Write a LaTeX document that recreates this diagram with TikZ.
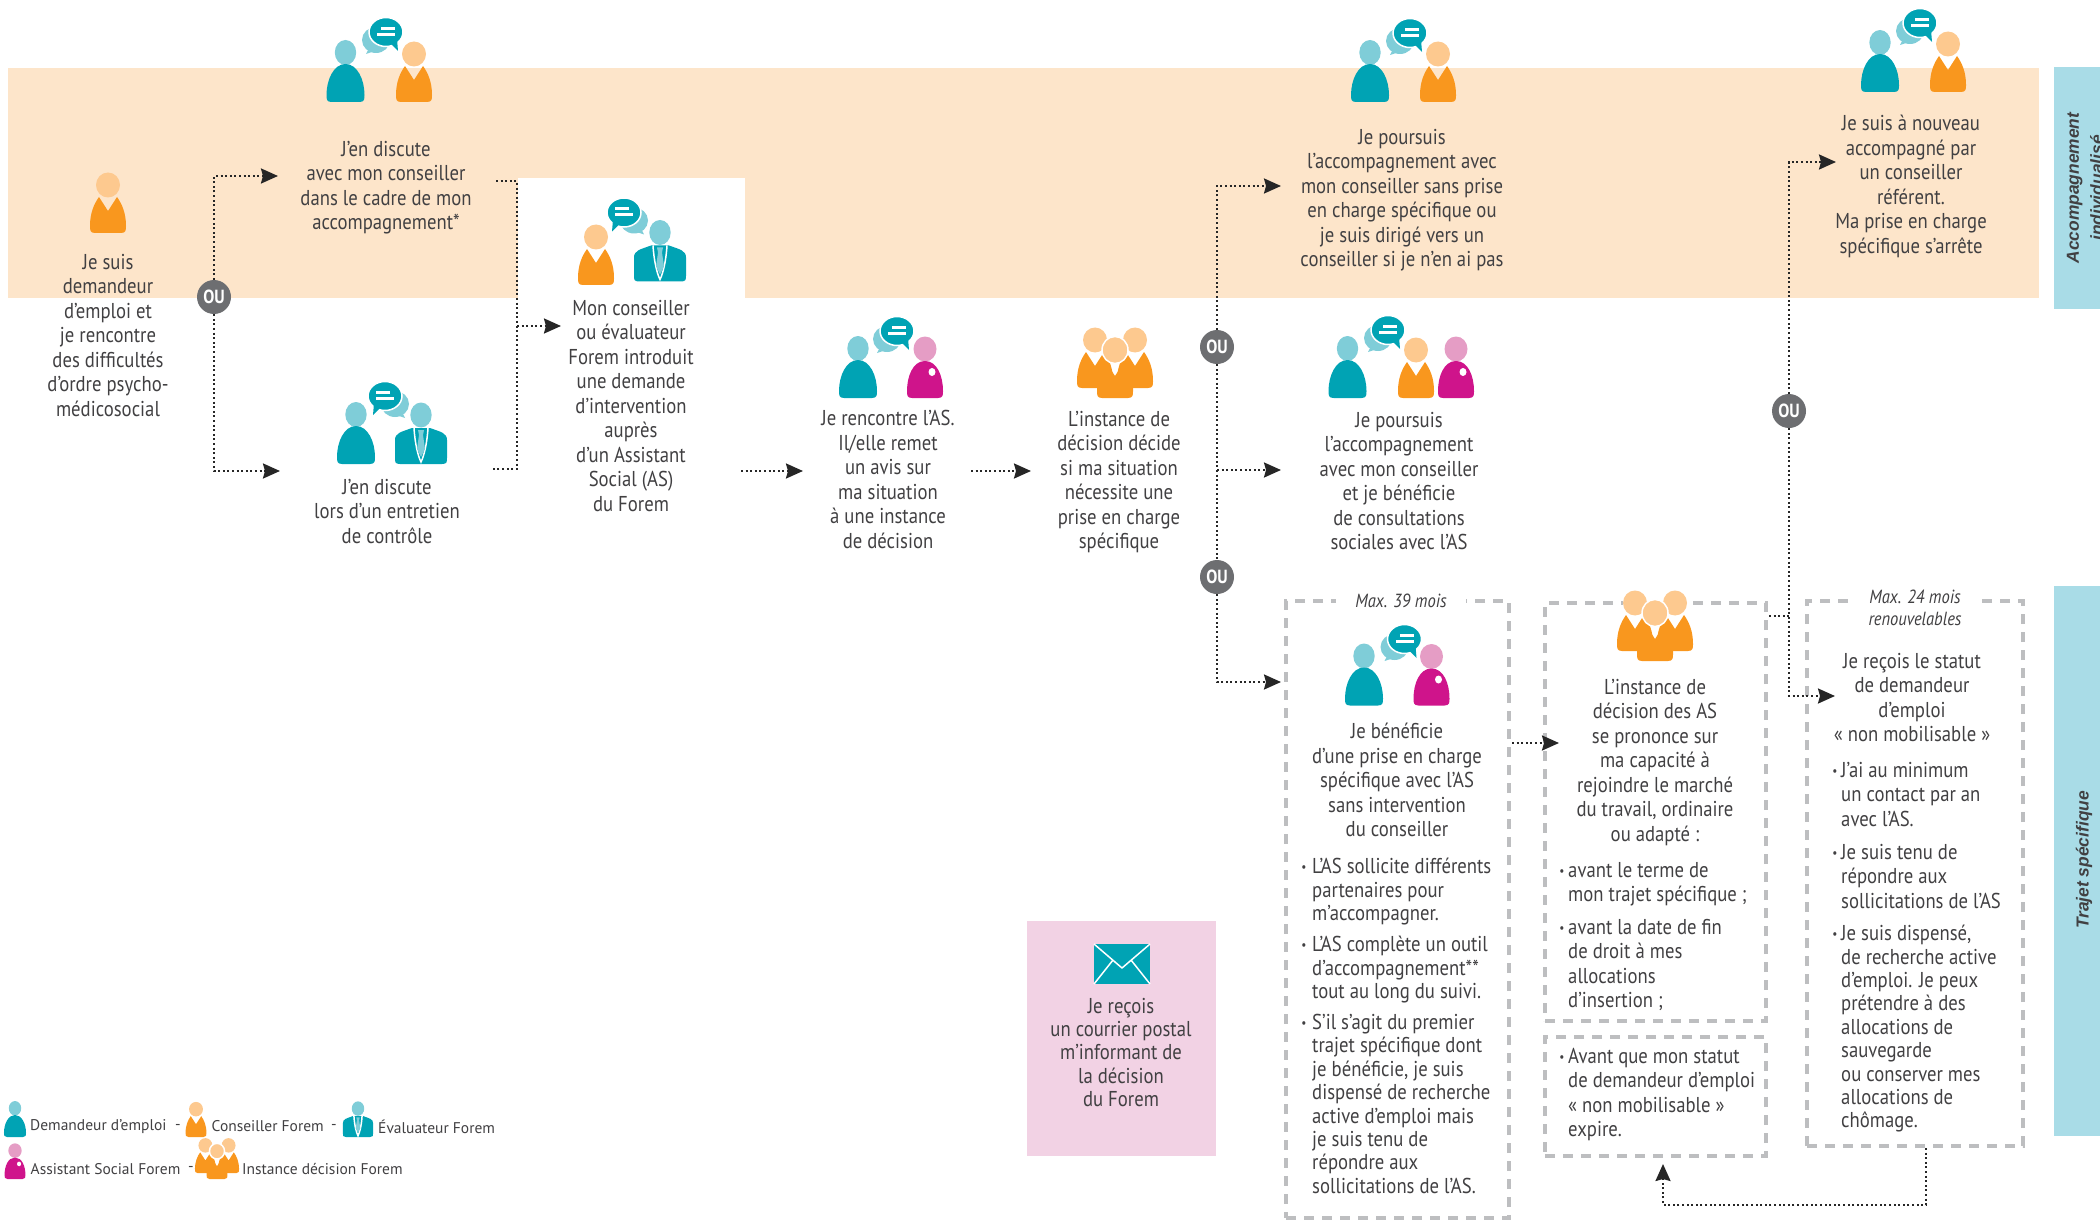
\documentclass[tikz,border=0pt]{standalone}
\usepackage{fontspec}
\setmainfont[FakeStretch=0.87]{PT Sans}
\newfontfamily\legfont[FakeStretch=1.0]{PT Sans}
\newfontfamily\sidefont{Liberation Sans}
\usetikzlibrary{arrows.meta,shapes.geometric}
\definecolor{lt}{HTML}{7FCDD8}
\definecolor{dk}{HTML}{00A3B4}
\definecolor{hd}{HTML}{FDC98F}
\definecolor{org}{HTML}{F9971E}
\definecolor{pk}{HTML}{E59DC5}
\definecolor{mg}{HTML}{CF148B}
\definecolor{band}{HTML}{FDE5CA}
\definecolor{side}{HTML}{A9DCE7}
\definecolor{pbox}{HTML}{F2D2E4}
\definecolor{dgray}{HTML}{BDBEC0}
\definecolor{ougray}{HTML}{6D6E71}
\definecolor{tcol}{HTML}{414042}
\newcommand{\conspaths}{%
  \fill[hd] (0,-48) ellipse [x radius=12,y radius=12.5];
  \fill[org] (-13,0) .. controls (-18,0) and (-18,-3) .. (-18,-7) .. controls (-18,-20) and (-14,-29) .. (-9,-36) -- (0,-22) -- (9,-36) .. controls (14,-29) and (18,-20) .. (18,-7) .. controls (18,-3) and (18,0) .. (13,0) -- cycle;
}
\tikzset{
 x=1pt,y=-1pt,
 clientp/.pic={
  \fill[lt] (0,-49.5) ellipse [x radius=10.7,y radius=12.5];
  \fill[dk] (-14,0) .. controls (-19,0) and (-19,-3) .. (-19,-7) .. controls (-19,-22) and (-12,-38) .. (0,-38) .. controls (12,-38) and (19,-22) .. (19,-7) .. controls (19,-3) and (19,0) .. (14,0) -- cycle;
 },
 consp/.pic={\conspaths},
 asp/.pic={
  \fill[pk] (0,-49) ellipse [x radius=11.5,y radius=12.5];
  \fill[mg] (-13,0) .. controls (-18,0) and (-18,-3) .. (-18,-7) .. controls (-18,-22) and (-12,-37) .. (0,-37) .. controls (12,-37) and (18,-22) .. (18,-7) .. controls (18,-3) and (18,0) .. (13,0) -- cycle;
  \fill[white] (7,-26) ellipse [x radius=3.5,y radius=4];
 },
 evalp/.pic={
  \fill[lt] (0,-49) ellipse [x radius=10.7,y radius=12.5];
  \fill[dk] (-21,0) .. controls (-26,0) and (-26,-2) .. (-26,-6) -- (-26,-24) .. controls (-26,-31) and (-20,-32) .. (-9,-36) -- (9,-36) .. controls (20,-32) and (26,-31) .. (26,-24) -- (26,-6) .. controls (26,-2) and (26,0) .. (21,0) -- cycle;
  \draw[white,line width=1.5pt] (-7,-36) .. controls (-6,-20) and (-3,-8) .. (0,-2) .. controls (3,-8) and (6,-20) .. (7,-36);
  \fill[lt] (-3,-34) -- (3,-34) -- (2,-29) -- (4,-15) -- (0,-7) -- (-4,-15) -- (-2,-29) -- cycle;
 },
 instp/.pic={
  \begin{scope}[shift={(-20,-10)}]\conspaths\end{scope}
  \begin{scope}[shift={(20,-10)}]\conspaths\end{scope}
  \fill[org] (-13,0) .. controls (-18,0) and (-18,-3) .. (-18,-7) -- (-18,-25) -- (-9,-36) -- (0,-22) -- (9,-36) -- (18,-25) -- (18,-7) .. controls (18,-3) and (18,0) .. (13,0) -- cycle;
  \path[fill=hd,draw=white,line width=1.5pt] (0,-48) ellipse [x radius=13,y radius=13.5];
 },
 bubp/.pic={
  \fill[lt] (-10,8) ellipse [x radius=14,y radius=13];
  \fill[lt] (-16,14) -- (-20,22) -- (-5,17) -- cycle;
  \path[fill=dk,draw=white,line width=1.5pt] (0,0) ellipse [x radius=17,y radius=14.5];
  \fill[dk] (3,10) -- (12,19) -- (11,7) -- cycle;
  \fill[white] (-5,-5) rectangle (9,-2);
  \fill[white] (-9,1) rectangle (9,4);
 },
 tx/.style={anchor=north,yshift=8pt,align=center,inner sep=0pt,text=tcol,
   font=\fontsize{21.5}{24.5}\selectfont,execute at begin node={\rule{0pt}{17pt}}},
 txl/.style={tx,anchor=north west,align=left},
 txlb/.style={txl,font=\fontsize{21.5}{23.4}\selectfont},
 txb/.style={tx,font=\fontsize{21.5}{23.2}\selectfont},
 bul/.style={inner sep=0pt,yshift=-3pt,text=tcol,font=\fontsize{13}{14}\selectfont},
 maxn/.style={anchor=center,align=center,inner ysep=2pt,fill=white,text=tcol,font=\fontsize{19}{22}\selectfont\itshape},
 leg/.style={anchor=west,inner sep=0pt,text=tcol,font=\fontsize{15.5}{18}\legfont},
 oun/.style={circle,fill=ougray,text=white,inner sep=0pt,minimum size=34pt,font=\fontsize{19}{20}\selectfont\bfseries},
 dbox/.style={rectangle,draw=dgray,line width=3.6pt,dash pattern=on 10pt off 8pt,anchor=north west,inner sep=0pt,outer sep=0pt},
 conn/.style={draw=black!85,line width=2.3pt,dash pattern=on 2pt off 2.6pt,-{Stealth[length=17pt,width=15pt,inset=2pt]}},
 connp/.style={draw=black!85,line width=2.3pt,dash pattern=on 2pt off 2.6pt},
 sidet/.style={rotate=90,align=center,inner sep=0pt,text=tcol,font=\fontsize{17.4}{24}\sidefont\bfseries\itshape},
}
\begin{document}
\begin{tikzpicture}
\useasboundingbox (0,0) rectangle (2100,1222);
% bands
\fill[band] (8,68) rectangle (2039,298);
\fill[white] (518,178) rectangle (745,298);
\fill[side] (2054,67) rectangle (2100,309);
\fill[side] (2054,586) rectangle (2100,1136);
\fill[pbox] (1027,921) rectangle (1216,1156);
\node[sidet] (s1) at (2085,188) {Accompagnement\\individualisé};
\node[sidet] (s2) at (2084,860) {Trajet spécifique};
% dashed boxes
\node[dbox,minimum width=223pt,minimum height=617pt] (boxA) at (1286,601) {};
\node[dbox,minimum width=221pt,minimum height=418pt] (boxB) at (1545,603) {};
\node[dbox,minimum width=221pt,minimum height=119pt] (boxC) at (1545,1037) {};
\node[dbox,minimum width=216pt,minimum height=545pt] (boxD) at (1807,601) {};
\fill[white] (1623,590) rectangle (1688,610);
\node[maxn,inner xsep=19pt] (m39) at (1401,601) {Max. 39 mois};
\node[maxn,inner xsep=20pt] (m24) at (1915,608) {Max. 24 mois\\renouvelables};
% icons
\pic at (108,233) {consp};
\pic at (345.5,102) {clientp}; \pic at (414,102) {consp}; \pic at (386,32) {bubp};
\pic at (596,285) {consp}; \pic at (660,281.5) {evalp}; \pic[xscale=-1] at (624,212.5) {bubp};
\pic at (356,464) {clientp}; \pic at (421,464) {evalp}; \pic[xscale=-1] at (385,396) {bubp};
\pic at (858,398) {clientp}; \pic at (925,398) {asp}; \pic at (897,331) {bubp};
\pic at (1115,398) {instp};
\pic at (1370,102) {clientp}; \pic at (1438,102) {consp}; \pic at (1410,33) {bubp};
\pic at (1880,92) {clientp}; \pic at (1948,92) {consp}; \pic at (1920,23) {bubp};
\pic at (1347.5,398) {clientp}; \pic at (1416,398) {consp}; \pic at (1456,398) {asp}; \pic at (1388,330) {bubp};
\pic at (1364,705.5) {clientp}; \pic at (1431.5,705.5) {asp}; \pic at (1404.5,639) {bubp};
\pic at (1655,661) {instp};
% envelope
\fill[dk] (1094,944) rectangle (1150,984);
\draw[white,line width=1.5pt,line join=round] (1094,944) -- (1122,968) -- (1150,944);
\draw[white,line width=1.5pt] (1094,984) -- (1113,960);
\draw[white,line width=1.5pt] (1150,984) -- (1131,960);
% texts
\node[tx] (t1) at (108,262) {Je suis\\demandeur\\d’emploi et\\je rencontre\\des difficultés\\d’ordre psycho-\\médicosocial};
\node[tx] (t2) at (386,149) {J’en discute\\avec mon conseiller\\dans le cadre de mon\\accompagnement*};
\node[tx] (t3) at (387,487) {J’en discute\\lors d’un entretien\\de contrôle};
\node[tx] (t4) at (631,308) {Mon conseiller\\ou évaluateur\\Forem introduit\\une demande\\d’intervention\\auprès\\d’un Assistant\\Social (AS)\\du Forem};
\node[tx] (t5) at (888,418) {Je rencontre l’AS.\\Il/elle remet\\un avis sur\\ma situation\\à une instance\\de décision};
\node[tx] (t6) at (1119,419) {L’instance de\\décision décide\\si ma situation\\nécessite une\\prise en charge\\spécifique};
\node[tx] (t7) at (1402,137) {Je poursuis\\l’accompagnement avec\\mon conseiller sans prise\\en charge spécifique ou\\je suis dirigé vers un\\conseiller si je n’en ai pas};
\node[tx] (t8) at (1399,420) {Je poursuis\\l’accompagnement\\avec mon conseiller\\et je bénéficie\\de consultations\\sociales avec l’AS};
\node[tx] (t9) at (1911,123) {Je suis à nouveau\\accompagné par\\un conseiller\\référent.\\Ma prise en charge\\spécifique s’arrête};
\node[tx] (t10) at (1397,731) {Je bénéficie\\d’une prise en charge\\spécifique avec l’AS\\sans intervention\\du conseiller};
\node[bul] (b1) at (1304,866) {•};
\node[txlb] (t11) at (1312,866) {L’AS sollicite différents\\partenaires pour\\m’accompagner.};
\node[bul] (b2) at (1304,944) {•};
\node[txlb] (t12) at (1312,944) {L’AS complète un outil\\d’accompagnement**\\tout au long du suivi.};
\node[bul] (b3) at (1304,1022) {•};
\node[txlb] (t13) at (1312,1022) {S’il s’agit du premier\\trajet spécifique dont\\je bénéficie, je suis\\dispensé de recherche\\active d’emploi mais\\je suis tenu de\\répondre aux\\sollicitations de l’AS.};
\node[tx] (t14) at (1655,687) {L’instance de\\décision des AS\\se prononce sur\\ma capacité à\\rejoindre le marché\\du travail, ordinaire\\ou adapté :};
\node[bul] (b4) at (1562,870) {•};
\node[txl] (t15) at (1568,870) {avant le terme de\\mon trajet spécifique ;};
\node[bul] (b5) at (1562,927) {•};
\node[txl] (t16) at (1568,927) {avant la date de fin\\de droit à mes\\allocations\\d’insertion ;};
\node[bul] (b6) at (1562,1056) {•};
\node[txl] (t17) at (1568,1056) {Avant que mon statut\\de demandeur d’emploi\\« non mobilisable »\\expire.};
\node[tx] (t18) at (1912,661) {Je reçois le statut\\de demandeur\\d’emploi\\« non mobilisable »};
\node[bul] (b7) at (1835,770) {•};
\node[txl] (t19) at (1841,770) {J’ai au minimum\\un contact par an\\avec l’AS.};
\node[bul] (b8) at (1835,852) {•};
\node[txl] (t20) at (1841,852) {Je suis tenu de\\répondre aux\\sollicitations de l’AS};
\node[bul] (b9) at (1835,933) {•};
\node[txlb] (t21) at (1841,933) {Je suis dispensé,\\de recherche active\\d’emploi. Je peux\\prétendre à des\\allocations de\\sauvegarde\\ou conserver mes\\allocations de\\chômage.};
\node[txb] (t22) at (1121,1006) {Je reçois\\un courrier postal\\m’informant de\\la décision\\du Forem};
% legend
\pic[scale=0.58] at (15,1137) {clientp};
\node[leg] (l1) at (30,1126.5) {Demandeur d’emploi};
\node[leg] (d1) at (175,1126.5) {-};
\pic[scale=0.58] at (196,1137) {consp};
\node[leg] (l2) at (211.5,1126.5) {Conseiller Forem};
\node[leg] (d2) at (331,1126.5) {-};
\pic[scale=0.58] at (358,1137) {evalp};
\node[leg] (l3) at (378,1126.5) {Évaluateur Forem};
\pic[scale=0.58] at (15,1179) {asp};
\node[leg] (l4) at (30.5,1169) {Assistant Social Forem};
\node[leg] (d3) at (188,1169) {-};
\pic[scale=0.58] at (217,1179) {instp};
\node[leg] (l5) at (242,1169) {Instance décision Forem};
% OU nodes
\node[oun] (ou1) at (214,297) {OU};
\node[oun] (ou2) at (1217,347) {OU};
\node[oun] (ou3) at (1217,577) {OU};
\node[oun] (ou4) at (1789,411) {OU};
% connector ends
\coordinate (a1) at (278,176);
\coordinate (a2) at (280,471);
\coordinate (c1) at (496,181);
\coordinate (c2) at (493,469);
\coordinate (c3) at (517,326);
\coordinate (a3) at (561,326);
\coordinate (c4) at (741,471);
\coordinate (a4) at (803,471);
\coordinate (c5) at (971,471);
\coordinate (a5) at (1031,471);
\coordinate (a6) at (1281,186);
\coordinate (c6) at (1217,470);
\coordinate (a7) at (1281,470);
\coordinate (a8) at (1281,682);
\coordinate (c7) at (1512,743);
\coordinate (a9) at (1559,743);
\coordinate (c8) at (1769,616);
\coordinate (c9) at (1789,616);
\coordinate (a10) at (1836,162);
\coordinate (a11) at (1835,696);
\coordinate (c10) at (1926,1148);
\coordinate (c11) at (1663,1205);
\coordinate (c12) at (1926,1205);
\coordinate (a12) at (1663,1164);
% connectors
\draw[conn] (ou1) |- (a1);
\draw[conn] (ou1) |- (a2);
\draw[connp] (c1) -| (c2 -| c3) -- (c2);
\draw[conn] (c3) -- (a3);
\draw[conn] (c4) -- (a4);
\draw[conn] (c5) -- (a5);
\draw[conn] (ou2) |- (a6);
\draw[connp] (ou2) -- (ou3);
\draw[conn] (c6) -- (a7);
\draw[conn] (ou3) |- (a8);
\draw[conn] (c7) -- (a9);
\draw[connp] (c8) -- (c9);
\draw[conn] (ou4) |- (a10);
\draw[conn] (ou4) |- (a11);
\draw[conn] (c10) -- (c12) -- (c11) -- (a12);
\end{tikzpicture}
\end{document}
